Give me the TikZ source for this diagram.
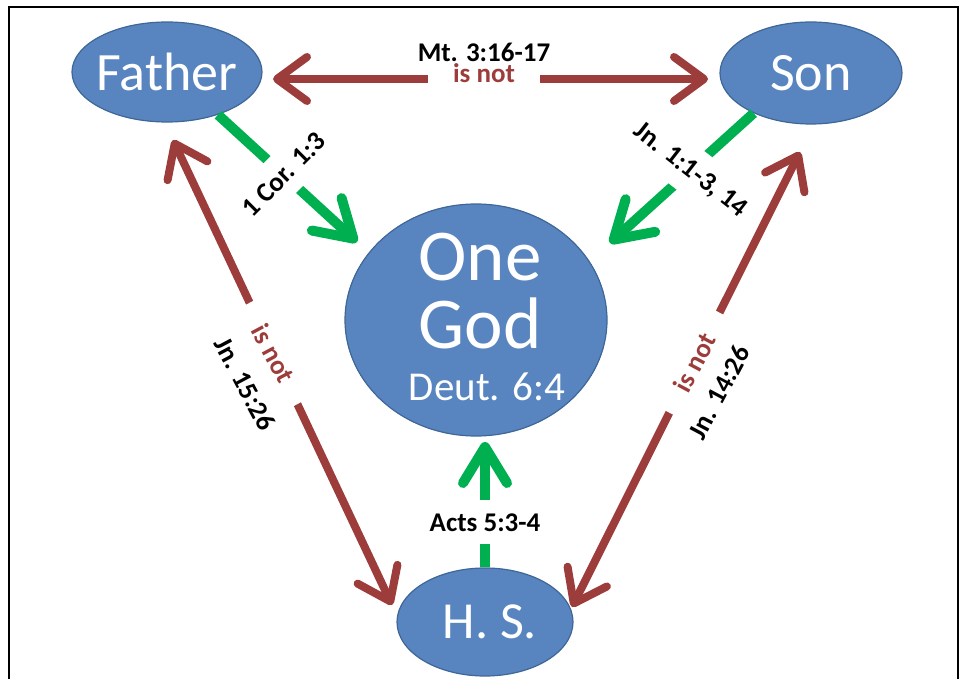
\documentclass[tikz,border=0pt]{standalone}
\usepackage{fontspec}
\setmainfont{Carlito}
\usetikzlibrary{arrows.meta,shapes.geometric}
\definecolor{nodeblue}{RGB}{88,133,192}
\definecolor{nodeedge}{RGB}{62,102,150}
\definecolor{linkred}{RGB}{157,61,59}
\definecolor{linkgreen}{RGB}{0,176,80}
\newcommand{\zbox}[1]{\makebox[0pt]{#1}}
\begin{document}
\begin{tikzpicture}[x=1pt,y=-1pt,
  blob/.style={ellipse, fill=nodeblue, draw=nodeedge, line width=1.2pt, text=white, inner sep=0pt},
  redlink/.style={draw=linkred, line width=8pt, arrows={Straight Barb[length=30pt,width=44pt,round]-Straight Barb[length=30pt,width=44pt,round]}},
  greenlink/.style={draw=linkgreen, line width=10pt, arrows={-Straight Barb[length=36pt,width=44pt,round]}},
  ref/.style={font=\fontsize{27}{30}\selectfont\bfseries, text=black, inner sep=0pt},
  isnot/.style={font=\fontsize{27}{30}\selectfont\bfseries, text=linkred, fill=white, inner xsep=25pt, inner ysep=4pt},
  gapref/.style={ref, fill=white, inner xsep=2pt, inner ysep=13pt}
]
\useasboundingbox (0,0) rectangle (964,679);
\draw[line width=2pt] (8.5,679) -- (8.5,7) -- (958,7) -- (958,679);

% nodes
\node[blob, minimum width=190pt, minimum height=100pt, font=\fontsize{54}{60}\selectfont] (father) at (167,72) {\zbox{Father}};
\node[blob, minimum width=182pt, minimum height=102pt, font=\fontsize{54}{60}\selectfont] (son) at (811,73) {\zbox{Son}};
\node[blob, minimum width=262pt, minimum height=232pt] (god) at (476,320)
  {\zbox{\hspace*{8pt}\raisebox{1pt}[0pt][0pt]{\parbox{320pt}{\centering\fontsize{73}{68}\selectfont One\\God\par\fontsize{41}{52}\selectfont\hspace*{14pt}Deut. 6:4}}}};
\node[blob, minimum width=176pt, minimum height=108pt, font=\fontsize{52}{60}\selectfont] (hs) at (485,622) {\zbox{\hspace*{10pt}H. S.}};

% coordinates for free ends
\coordinate (fsA) at (273,79);
\coordinate (fsB) at (708,79);
\coordinate (fhA) at (173,140);
\coordinate (fhB) at (392,605);
\coordinate (shA) at (800,152);
\coordinate (shB) at (572,607);
\coordinate (fgT) at (357,242);
\coordinate (sgT) at (610,243);
\coordinate (hgT) at (485,442);

% red "is not" connectors
\draw[redlink] (fsA) -- node[isnot, pos=0.485, anchor=base, yshift=-4pt]{is not}
  node[ref, pos=0.485, anchor=base, yshift=17pt]{Mt. 3:16-17} (fsB);
\draw[redlink] (fhA) -- node[isnot, pos=0.459, rotate=-62]{is not}
  node[ref, pos=0.459, xshift=-28.5pt, yshift=-30.5pt, rotate=-62]{Jn. 15:26} (fhB);
\draw[redlink] (shA) -- node[isnot, pos=0.463, rotate=62]{is not}
  node[ref, pos=0.463, xshift=25pt, yshift=-29.5pt, rotate=62]{Jn. 14:26} (shB);

% green connectors
\draw[greenlink] (father.320) -- node[gapref, pos=0.47, rotate=45]{1 Cor. 1:3} (fgT);
\draw[greenlink] (son.215) -- node[gapref, pos=0.44, rotate=-38]{Jn. 1:1-3, 14} (sgT);
\draw[greenlink] (hs) -- node[gapref, pos=0.36]{Acts 5:3-4} (hgT);
\end{tikzpicture}
\end{document}
